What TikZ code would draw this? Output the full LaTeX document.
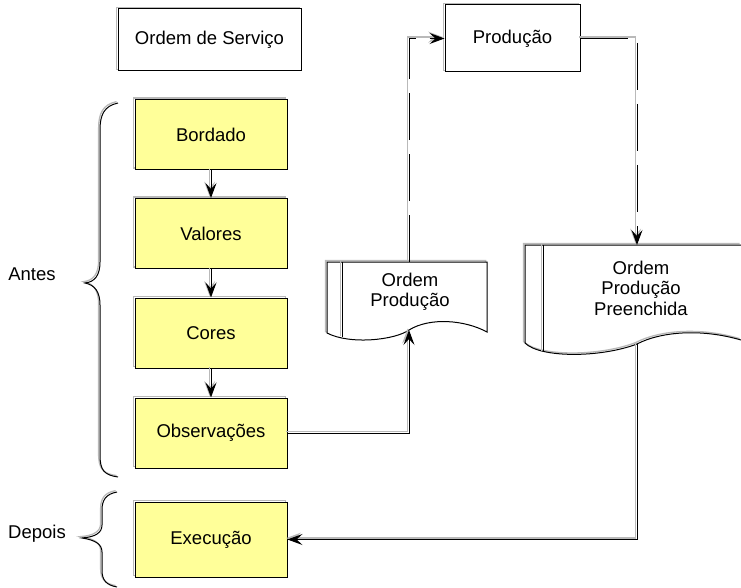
\documentclass[tikz,border=0pt]{standalone}
\usepackage{fontspec}
\setmainfont{Liberation Sans}
\usetikzlibrary{arrows.meta}
\definecolor{boxyellow}{RGB}{255,255,153}
\definecolor{shadegray}{RGB}{185,185,185}
\tikzset{
  x=1pt, y=-1pt,
  lbl/.style={font=\fontsize{18.5}{20.5}\selectfont, align=center, inner sep=0pt},
  hilite/.style={preaction={draw=shadegray, line width=1.3pt, transform canvas={shift={(-1.4pt,1.4pt)}}}},
  plainbox/.style={draw=black, line width=1pt, fill=white, lbl, hilite},
  ybox/.style={draw=black, line width=1pt, fill=boxyellow, lbl, hilite, minimum width=152pt, minimum height=70pt},
  conn/.style={draw=black, line width=1pt, hilite, -{Stealth[length=15pt,width=11pt,inset=6pt]}},
  dashline/.style={dash pattern=on 47pt off 14pt},
  docline/.style={draw=black, line width=1pt, hilite},
  bracel/.style={draw=black, line width=1pt, hilite},
}
\begin{document}
\begin{tikzpicture}
\useasboundingbox (0,0) rectangle (741,588);

% top boxes
\node[plainbox, minimum width=183pt, minimum height=62pt] (os) at (209.5,40) {Ordem de Serviço};
\node[plainbox, minimum width=135pt, minimum height=67pt] (prod) at (512.5,38.5) {Produção};

% yellow boxes
\node[ybox] (bord) at (211,134.5) {Bordado};
\node[ybox] (val) at (211,233.5) {Valores};
\node[ybox] (cor) at (211,333) {Cores};
\node[ybox] (obs) at (211,433) {Observações};
\node[ybox, minimum height=75pt] (exe) at (211,539.5) {Execução};

% document: Ordem Producao
\path[docline, fill=white] (327,333) -- (327,262) -- (487,262) -- (487,332)
   .. controls (465,320) and (430,317) .. (409,330)
   .. controls (395,340) and (350,345) .. (327,333) -- cycle;
\draw[docline] (342,262) -- (342,337);
\node[lbl] (optxt) at (410,292) {Ordem\\Produção};
\coordinate (optop) at (409,262);
\coordinate (opbot) at (409,330);

% document: Ordem Producao Preenchida
\path[docline] (741,245) -- (525,245) -- (525,343)
   .. controls (540,358) and (600,358) .. (637,344)
   .. controls (660,332) and (700,328) .. (741,340);
\draw[docline] (543,245) -- (543,352);
\node[lbl] (pptxt) at (641,288) {Ordem\\Produção\\Preenchida};
\coordinate (pptop) at (637,245);
\coordinate (ppbot) at (637,344);

% connectors
\draw[conn] (bord.south) -- (val.north);
\draw[conn] (val.south) -- (cor.north);
\draw[conn] (cor.south) -- (obs.north);
\draw[conn] (obs.east) -| (opbot);
\draw[conn, dashline] (optop) |- (prod.west);
\draw[conn, dashline] (prod.east) -| (pptop);
\draw[conn] (ppbot) |- (exe.east);

% braces
\draw[bracel] (118,103) .. controls (104,106) and (100,115) .. (100,130) -- (100,262)
   .. controls (100,275) and (95,282) .. (85,283)
   .. controls (95,285) and (100,292) .. (100,305) -- (100,455)
   .. controls (100,470) and (104,475) .. (118,477);
\draw[bracel] (117,492) .. controls (106,494) and (102,500) .. (102,510) -- (102,525)
   .. controls (102,533) and (95,537) .. (82,538)
   .. controls (95,540) and (102,544) .. (102,552) -- (102,570)
   .. controls (102,580) and (106,585) .. (117,587);
\node[lbl, anchor=base] (antes) at (32,280) {Antes};
\node[lbl, anchor=base] (depois) at (37,538) {Depois};
\end{tikzpicture}
\end{document}
